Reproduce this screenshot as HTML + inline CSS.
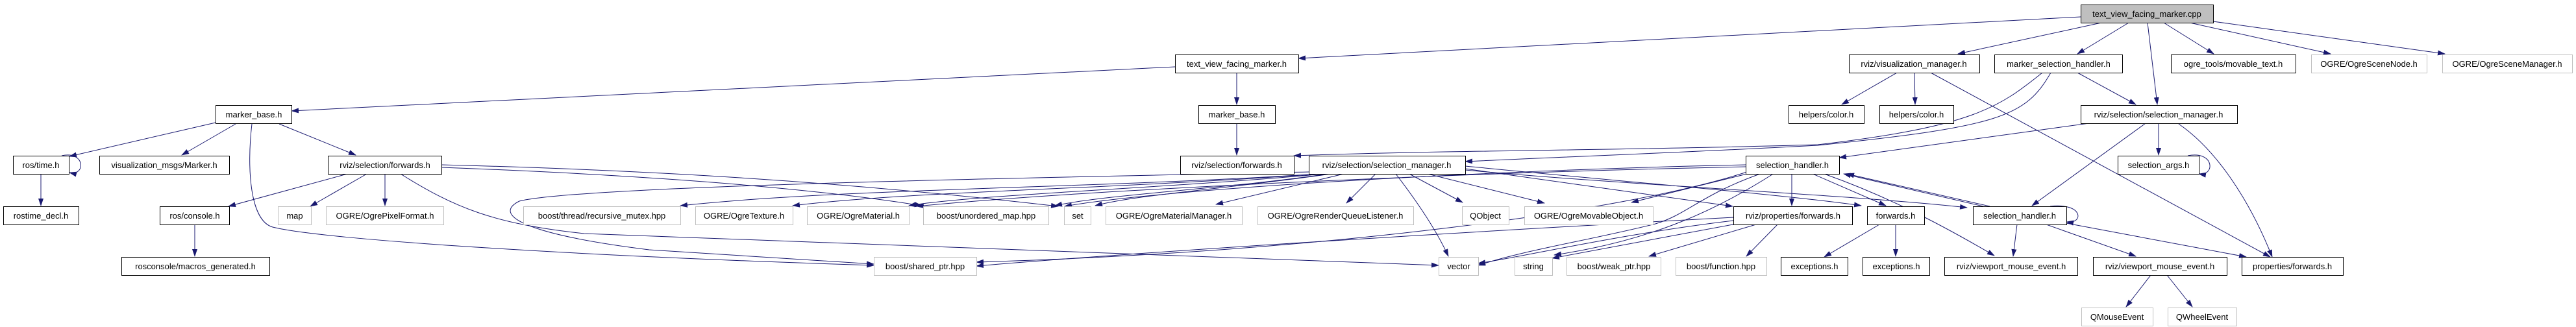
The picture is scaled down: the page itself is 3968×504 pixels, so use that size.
<!DOCTYPE html>
<html><head><meta charset="utf-8"><style>
html,body{margin:0;padding:0;background:#fff;}
svg{display:block;}
text{font-family:"Liberation Sans",sans-serif;font-size:13px;fill:#000;}
.b{fill:#fff;stroke:#000;stroke-width:1;}
.g{fill:#fff;stroke:#bfbfbf;stroke-width:1;}
.e{fill:none;stroke:#191970;stroke-width:1;marker-end:url(#a);}
</style></head><body>
<svg width="3968" height="504" viewBox="0 0 3968 504" xmlns="http://www.w3.org/2000/svg">
<defs><marker id="a" markerWidth="12" markerHeight="8" refX="11" refY="4" orient="auto" markerUnits="userSpaceOnUse"><path d="M0,0 L12,4 L0,8 Z" fill="#191970"/></marker></defs>
<g>
<path class="e" d="M3205,26 L2000,90"/>
<path class="e" d="M3237,35 L3016,83"/>
<path class="e" d="M3279,35 L3200,83"/>
<path class="e" d="M3308,35 L3323,161"/>
<path class="e" d="M3333,35 L3410,83"/>
<path class="e" d="M3373,35 L3590,83"/>
<path class="e" d="M3409,33 L3766,83"/>
<path class="e" d="M1810,103 L449,171"/>
<path class="e" d="M1905,112 L1905,161"/>
<path class="e" d="M1905,190 L1905,239"/>
<path class="e" d="M332,189 L107,241"/>
<path class="e" d="M363,191 L280,239"/>
<path class="e" d="M430,191 L548,239"/>
<path class="e" d="M388,191 C380,260 385,340 420,350 C500,370 900,395 1346,409"/>
<path class="e" d="M95,240 C132,232 132,272 107,266"/>
<path class="e" d="M63,268 L63,317"/>
<path class="e" d="M535,268 L352,318"/>
<path class="e" d="M300,346 L300,395"/>
<path class="e" d="M565,268 L478,318"/>
<path class="e" d="M593,268 L593,317"/>
<path class="e" d="M617,268 C700,320 760,345 900,360 L2216,409"/>
<path class="e" d="M680,254 C1000,262 1300,280 1630,318"/>
<path class="e" d="M680,258 C1000,270 1250,290 1420,317"/>
<path class="e" d="M2922,112 L2837,161"/>
<path class="e" d="M2949,112 L2950,161"/>
<path class="e" d="M2974,112 L3497,396"/>
<path class="e" d="M3146,112 C3080,165 3040,195 2800,223 C2500,232 2200,232 1993,240"/>
<path class="e" d="M3159,112 C3120,180 3080,195 2800,224 C2600,235 2400,242 2257,249"/>
<path class="e" d="M3200,112 L3290,161"/>
<path class="e" d="M3218,190 L2833,243"/>
<path class="e" d="M3325,190 L3325,239"/>
<path class="e" d="M3305,190 L3130,317"/>
<path class="e" d="M3356,191 C3420,235 3470,320 3500,396"/>
<path class="e" d="M3370,240 C3412,232 3412,272 3387,268"/>
<path class="e" d="M3158,318 C3210,312 3210,346 3183,342"/>
<path class="e" d="M2030,268 C1700,290 1300,290 1048,317"/>
<path class="e" d="M2035,268 C1700,292 1400,295 1221,317"/>
<path class="e" d="M2040,268 C1800,290 1500,300 1400,317"/>
<path class="e" d="M2045,268 C1900,290 1700,300 1625,317"/>
<path class="e" d="M2050,268 C1900,290 1750,300 1687,317"/>
<path class="e" d="M2070,268 L1873,315"/>
<path class="e" d="M2119,268 L2074,313"/>
<path class="e" d="M2169,267 L2253,312"/>
<path class="e" d="M2195,267 L2379,313"/>
<path class="e" d="M2150,268 C2190,320 2215,360 2231,395"/>
<path class="e" d="M2257,260 L2669,318"/>
<path class="e" d="M2257,256 C2500,280 2750,300 2867,317"/>
<path class="e" d="M2257,262 C2500,285 2850,300 3030,320"/>
<path class="e" d="M2016,265 C1700,272 900,285 800,310 C760,330 800,360 1000,385 L1346,407"/>
<path class="e" d="M2690,254 C2300,262 1800,290 1640,318"/>
<path class="e" d="M2690,257 C2300,265 1700,290 1412,318"/>
<path class="e" d="M2695,267 L2513,312"/>
<path class="e" d="M2714,267 C2620,300 2600,330 2550,345 C2450,370 2350,385 2277,409"/>
<path class="e" d="M2733,267 C2650,320 2550,370 2394,393"/>
<path class="e" d="M2760,268 L2760,317"/>
<path class="e" d="M2790,267 L2905,317"/>
<path class="e" d="M2810,268 C2900,300 2980,340 3072,394"/>
<path class="e" d="M2700,262 C2500,330 2000,390 1504,404"/>
<path class="e" d="M3055,318 L2840,268"/>
<path class="e" d="M3065,318 L2845,268"/>
<path class="e" d="M2670,340 C2500,360 2350,395 2277,406"/>
<path class="e" d="M2680,344 L2391,398"/>
<path class="e" d="M2705,346 L2540,395"/>
<path class="e" d="M2738,346 L2690,395"/>
<path class="e" d="M2670,335 C2300,355 1800,385 1504,410"/>
<path class="e" d="M2895,346 L2810,396"/>
<path class="e" d="M2920,346 L2920,395"/>
<path class="e" d="M3107,346 L3101,395"/>
<path class="e" d="M3152,346 L3290,395"/>
<path class="e" d="M3183,344 L3460,396"/>
<path class="e" d="M3313,424 L3275,473"/>
<path class="e" d="M3338,424 L3377,473"/>
</g>
<g>
<rect x="3205.5" y="7.5" width="204" height="28" fill="#bfbfbf" stroke="#000"/><text x="3307" y="26" text-anchor="middle">text_view_facing_marker.cpp</text>

<rect class="b" x="1810.5" y="84.5" width="190" height="28"/><text x="1905" y="103" text-anchor="middle">text_view_facing_marker.h</text>
<rect class="b" x="2848.5" y="84.5" width="201" height="28"/><text x="2948" y="103" text-anchor="middle">rviz/visualization_manager.h</text>
<rect class="b" x="3072.5" y="84.5" width="197" height="28"/><text x="3171" y="103" text-anchor="middle">marker_selection_handler.h</text>
<rect class="b" x="3344.5" y="84.5" width="192" height="28"/><text x="3440" y="103" text-anchor="middle">ogre_tools/movable_text.h</text>
<rect class="g" x="3560.5" y="84.5" width="178" height="28"/><text x="3649" y="103" text-anchor="middle">OGRE/OgreSceneNode.h</text>
<rect class="g" x="3762.5" y="84.5" width="200" height="28"/><text x="3862" y="103" text-anchor="middle">OGRE/OgreSceneManager.h</text>

<rect class="b" x="332.5" y="162.5" width="117" height="28"/><text x="391" y="181" text-anchor="middle">marker_base.h</text>
<rect class="b" x="1846.5" y="162.5" width="118" height="28"/><text x="1905" y="181" text-anchor="middle">marker_base.h</text>
<rect class="b" x="2755.5" y="162.5" width="116" height="28"/><text x="2813" y="181" text-anchor="middle">helpers/color.h</text>
<rect class="b" x="2895.5" y="162.5" width="114" height="28"/><text x="2952" y="181" text-anchor="middle">helpers/color.h</text>
<rect class="b" x="3205.5" y="162.5" width="241" height="28"/><text x="3325" y="181" text-anchor="middle">rviz/selection/selection_manager.h</text>

<rect class="b" x="20.5" y="240.5" width="86" height="28"/><text x="63" y="259" text-anchor="middle">ros/time.h</text>
<rect class="b" x="153.5" y="240.5" width="200" height="28"/><text x="253" y="259" text-anchor="middle">visualization_msgs/Marker.h</text>
<rect class="b" x="505.5" y="240.5" width="175" height="28"/><text x="593" y="259" text-anchor="middle">rviz/selection/forwards.h</text>
<rect class="b" x="1818.5" y="240.5" width="175" height="28"/><text x="1905" y="259" text-anchor="middle">rviz/selection/forwards.h</text>
<rect class="b" x="2016.5" y="240.5" width="241" height="28"/><text x="2136" y="259" text-anchor="middle">rviz/selection/selection_manager.h</text>
<rect class="b" x="2689.5" y="240.5" width="144" height="28"/><text x="2761" y="259" text-anchor="middle">selection_handler.h</text>
<rect class="b" x="3262.5" y="240.5" width="125" height="28"/><text x="3325" y="259" text-anchor="middle">selection_args.h</text>

<rect class="b" x="5.5" y="318.5" width="116" height="28"/><text x="63" y="337" text-anchor="middle">rostime_decl.h</text>
<rect class="b" x="246.5" y="318.5" width="107" height="28"/><text x="300" y="337" text-anchor="middle">ros/console.h</text>
<rect class="g" x="428.5" y="318.5" width="51" height="28"/><text x="454" y="337" text-anchor="middle">map</text>
<rect class="g" x="502.5" y="318.5" width="181" height="28"/><text x="593" y="337" text-anchor="middle">OGRE/OgrePixelFormat.h</text>
<rect class="g" x="806.5" y="318.5" width="242" height="28"/><text x="927" y="337" text-anchor="middle">boost/thread/recursive_mutex.hpp</text>
<rect class="g" x="1071.5" y="318.5" width="150" height="28"/><text x="1146" y="337" text-anchor="middle">OGRE/OgreTexture.h</text>
<rect class="g" x="1243.5" y="318.5" width="157" height="28"/><text x="1322" y="337" text-anchor="middle">OGRE/OgreMaterial.h</text>
<rect class="g" x="1422.5" y="318.5" width="193" height="28"/><text x="1519" y="337" text-anchor="middle">boost/unordered_map.hpp</text>
<rect class="g" x="1639.5" y="318.5" width="41" height="28"/><text x="1660" y="337" text-anchor="middle">set</text>
<rect class="g" x="1703.5" y="318.5" width="210" height="28"/><text x="1808" y="337" text-anchor="middle">OGRE/OgreMaterialManager.h</text>
<rect class="g" x="1937.5" y="318.5" width="240" height="28"/><text x="2057" y="337" text-anchor="middle">OGRE/OgreRenderQueueListener.h</text>
<rect class="g" x="2252.5" y="318.5" width="72" height="28"/><text x="2288" y="337" text-anchor="middle">QObject</text>
<rect class="g" x="2348.5" y="318.5" width="198" height="28"/><text x="2447" y="337" text-anchor="middle">OGRE/OgreMovableObject.h</text>
<rect class="b" x="2670.5" y="318.5" width="183" height="28"/><text x="2762" y="337" text-anchor="middle">rviz/properties/forwards.h</text>
<rect class="b" x="2876.5" y="318.5" width="88" height="28"/><text x="2920" y="337" text-anchor="middle">forwards.h</text>
<rect class="b" x="3039.5" y="318.5" width="144" height="28"/><text x="3111" y="337" text-anchor="middle">selection_handler.h</text>

<rect class="b" x="187.5" y="396.5" width="228" height="28"/><text x="301" y="415" text-anchor="middle">rosconsole/macros_generated.h</text>
<rect class="g" x="1346.5" y="396.5" width="158" height="28"/><text x="1425" y="415" text-anchor="middle">boost/shared_ptr.hpp</text>
<rect class="g" x="2216.5" y="396.5" width="61" height="28"/><text x="2247" y="415" text-anchor="middle">vector</text>
<rect class="g" x="2333.5" y="396.5" width="58" height="28"/><text x="2362" y="415" text-anchor="middle">string</text>
<rect class="g" x="2413.5" y="396.5" width="145" height="28"/><text x="2486" y="415" text-anchor="middle">boost/weak_ptr.hpp</text>
<rect class="g" x="2581.5" y="396.5" width="140" height="28"/><text x="2651" y="415" text-anchor="middle">boost/function.hpp</text>
<rect class="b" x="2743.5" y="396.5" width="103" height="28"/><text x="2795" y="415" text-anchor="middle">exceptions.h</text>
<rect class="b" x="2869.5" y="396.5" width="103" height="28"/><text x="2921" y="415" text-anchor="middle">exceptions.h</text>
<rect class="b" x="2995.5" y="396.5" width="205" height="28"/><text x="3098" y="415" text-anchor="middle">rviz/viewport_mouse_event.h</text>
<rect class="b" x="3224.5" y="396.5" width="206" height="28"/><text x="3327" y="415" text-anchor="middle">rviz/viewport_mouse_event.h</text>
<rect class="b" x="3453.5" y="396.5" width="156" height="28"/><text x="3531" y="415" text-anchor="middle">properties/forwards.h</text>

<rect class="g" x="3206.5" y="474.5" width="110" height="28"/><text x="3261" y="493" text-anchor="middle">QMouseEvent</text>
<rect class="g" x="3339.5" y="474.5" width="106" height="28"/><text x="3392" y="493" text-anchor="middle">QWheelEvent</text>
</g>
</svg>
</body></html>
